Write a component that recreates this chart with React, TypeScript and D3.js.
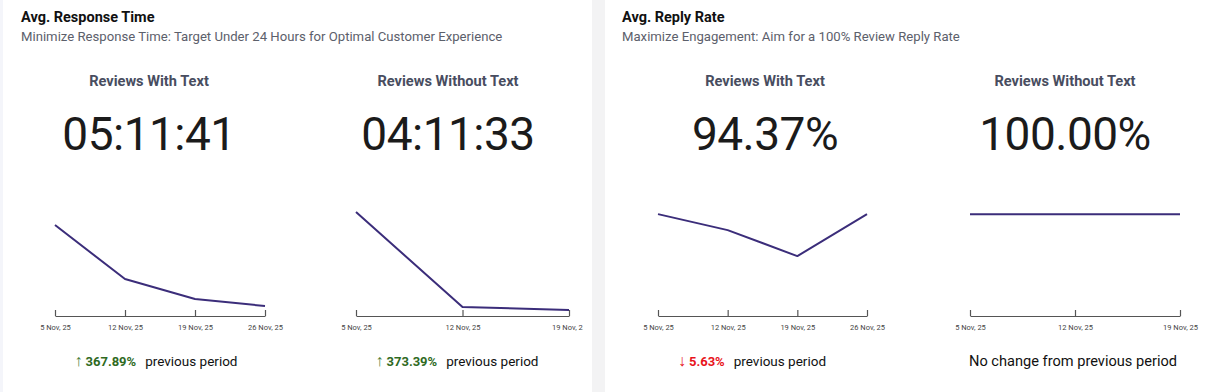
import { useEffect, useRef } from 'react';
import * as d3 from 'd3';

const datesFour = ['5 Nov, 25', '12 Nov, 25', '19 Nov, 25', '26 Nov, 25'];
const datesThree = ['5 Nov, 25', '12 Nov, 25', '19 Nov, 25'];

// hours
const timeWithText = [8.27, 3.36, 1.55, 0.91];
const timeWithoutText = [9.45, 0.82, 0.55];
// percent
const rateWithText = [100, 84.3, 58.8, 100];
const rateWithoutText = [100, 100, 100];

const cardTitles = ['Avg. Response Time', 'Avg. Reply Rate'];
const cardSubtitles = [
  'Minimize Response Time: Target Under 24 Hours for Optimal Customer Experience',
  'Maximize Engagement: Aim for a 100% Review Reply Rate',
];
const panelTitles = ['Reviews With Text', 'Reviews Without Text', 'Reviews With Text', 'Reviews Without Text'];
const bigValues = ['05:11:41', '04:11:33', '94.37%', '100.00%'];
const changeDir = ['up', 'up', 'down', 'none'];
const changeValues = ['367.89%', '373.39%', '5.63%', ''];

const FONT = 'Roboto, "Noto Sans", sans-serif';
const LINE = '#3b2d7a';

export default function App() {
  const svgRef = useRef<SVGSVGElement>(null);

  useEffect(() => {
    const width = 1208;
    const height = 392;
    const svg = d3.select(svgRef.current).attr('width', width).attr('height', height);
    svg.selectAll('*').remove();

    // backgrounds
    svg.append('rect').attr('width', width).attr('height', height).attr('fill', '#ffffff');
    svg.append('rect').attr('x', 0).attr('width', 3).attr('height', height).attr('fill', '#f4f5fa');
    svg.append('rect').attr('x', 592).attr('width', 13).attr('height', height).attr('fill', '#f3f3f4');

    const cardX = [21, 622];
    cardTitles.forEach((t, i) => {
      svg.append('text').attr('x', cardX[i]).attr('y', 22)
        .attr('font-family', FONT).attr('font-size', 14.5).attr('font-weight', 700)
        .attr('fill', '#111').text(t);
      svg.append('text').attr('x', cardX[i]).attr('y', 41)
        .attr('font-family', FONT).attr('font-size', 13.15).attr('fill', '#5c606b')
        .text(cardSubtitles[i]);
    });

    const panels = [
      { cx: 149, x0: 55, x1: 265, clip: 600, dates: datesFour, values: timeWithText, yMax: 10, textCx: 156 },
      { cx: 448, x0: 356, x1: 569, clip: 583, dates: datesThree, values: timeWithoutText, yMax: 10, textCx: 457 },
      { cx: 765, x0: 658, x1: 867, clip: 1208, dates: datesFour, values: rateWithText, yMax: 108, textCx: 752 },
      { cx: 1065, x0: 970, x1: 1180, clip: 1208, dates: datesThree, values: rateWithoutText, yMax: 108, textCx: 1073 },
    ];

    const axisY = 316;
    const plotTop = 206;

    panels.forEach((p, i) => {
      svg.append('text').attr('x', p.cx).attr('y', 86).attr('text-anchor', 'middle')
        .attr('font-family', FONT).attr('font-size', 14.6).attr('font-weight', 700)
        .attr('fill', '#484d60').text(panelTitles[i]);

      svg.append('text').attr('x', p.cx).attr('y', 150).attr('text-anchor', 'middle')
        .attr('font-family', FONT).attr('font-size', 46).attr('letter-spacing', -0.5)
        .attr('fill', '#1b1b1b')
        .text(bigValues[i]);

      const clipId = `clip-${i}`;
      svg.append('clipPath').attr('id', clipId)
        .append('rect').attr('x', p.x0 - 60).attr('y', 180).attr('width', p.clip - (p.x0 - 60)).attr('height', 170);

      const g = svg.append('g').attr('clip-path', `url(#${clipId})`);

      const x = d3.scalePoint<string>().domain(p.dates).range([p.x0, p.x1]);
      const y = d3.scaleLinear().domain([0, p.yMax]).range([axisY, plotTop]);

      const axis = g.append('g')
        .attr('transform', `translate(0, ${axisY})`)
        .call(d3.axisBottom(x).tickSizeInner(-6).tickSizeOuter(0).tickPadding(9));
      axis.select('.domain').attr('stroke', '#555').attr('stroke-width', 1.2);
      axis.selectAll('.tick line').attr('stroke', '#555').attr('stroke-width', 1.2);
      axis.selectAll('.tick text').attr('font-family', FONT).attr('font-size', 7.5).attr('fill', '#444');

      const line = d3.line<number>()
        .x((_, j) => x(p.dates[j]) as number)
        .y(d => y(d));

      g.append('path').datum(p.values).attr('d', line)
        .attr('fill', 'none').attr('stroke', LINE).attr('stroke-width', 2)
        .attr('stroke-linejoin', 'round');

      const t = svg.append('text').attr('x', p.textCx).attr('y', 366).attr('text-anchor', 'middle')
        .attr('font-family', FONT).attr('font-size', 13.5);
      if (changeDir[i] === 'none') {
        t.attr('font-size', 14.6);
        t.append('tspan').attr('fill', '#111').text('No change from previous period');
      } else {
        const up = changeDir[i] === 'up';
        t.append('tspan').attr('fill', up ? '#4c7f3d' : '#e8141c').attr('font-size', 16).text(up ? '↑' : '↓');
        t.append('tspan').attr('dx', 3).attr('fill', up ? '#2f6a1f' : '#e8141c').attr('font-weight', 700)
          .attr('font-size', 13).text(changeValues[i]);
        t.append('tspan').attr('dx', 9).attr('fill', '#111').text('previous period');
      }
    });
  }, []);

  return (
    <svg ref={svgRef} style={{ position: 'absolute', left: 0, top: 0, display: 'block' }}></svg>
  );
}
